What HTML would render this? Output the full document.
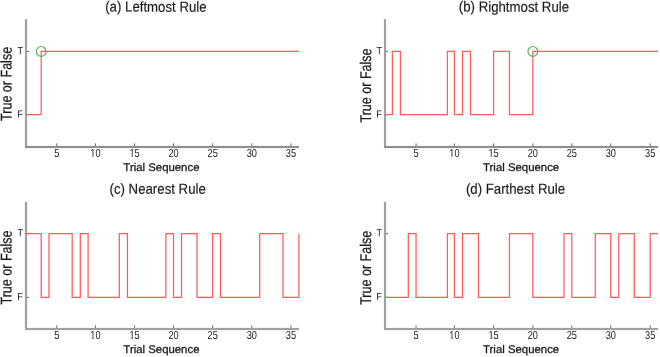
<!DOCTYPE html>
<html><head><meta charset="utf-8"><style>
html,body{margin:0;padding:0;background:#fff;}
body{width:660px;height:357px;overflow:hidden;}
svg{display:block;will-change:transform;}
text{font-family:"Liberation Sans",sans-serif;fill:#1a1a1a;stroke:#1a1a1a;}
.tk{font-size:9.4px;stroke-width:0px;}
.ti{font-size:13px;stroke-width:0.15px;}
.xl{font-size:11.4px;stroke-width:0.3px;}
.yl{font-size:13px;stroke-width:0.2px;}
</style></head><body>
<svg width="660" height="357" viewBox="0 0 660 357">
<rect width="660" height="357" fill="#fff"/>
<g><path d="M26.00 19.20V146.00M25.00 147.00H299.00" fill="none" stroke="#efefef" stroke-width="3.0"/><path d="M26.00 19.20V146.00" fill="none" stroke="#a0a0a0" stroke-width="2.0"/><path d="M25.00 147.00H299.00" fill="none" stroke="#8e8e8e" stroke-width="2.0"/><path d="M56.80 146.00v-2.6 M95.40 146.00v-2.6 M134.60 146.00v-2.6 M173.50 146.00v-2.6 M212.65 146.00v-2.6 M251.80 146.00v-2.6 M290.90 146.00v-2.6 M27.00 51.39h2 M27.00 114.69h2" fill="none" stroke="#666" stroke-width="1.0"/><path d="M25.60 114.69H41.20V51.39H298.90" fill="none" stroke="#ff5c5c" stroke-width="1.25"/><circle cx="41.20" cy="51.44" r="4.9" fill="none" stroke="#56b456" stroke-width="1.15"/><text transform="translate(56.80 157.00) skewY(0.05) scale(0.98 1.24)" class="tk" text-anchor="middle">5</text><g clip-path="url(#c0_10)"><text transform="translate(95.40 157.00) skewY(0.05) scale(0.98 1.24)" class="tk" text-anchor="middle">10</text></g><g clip-path="url(#c0_15)"><text transform="translate(134.60 157.00) skewY(0.05) scale(0.98 1.24)" class="tk" text-anchor="middle">15</text></g><text transform="translate(173.50 157.00) skewY(0.05) scale(0.98 1.24)" class="tk" text-anchor="middle">20</text><text transform="translate(212.65 157.00) skewY(0.05) scale(0.98 1.24)" class="tk" text-anchor="middle">25</text><text transform="translate(251.80 157.00) skewY(0.05) scale(0.98 1.24)" class="tk" text-anchor="middle">30</text><text transform="translate(290.90 157.00) skewY(0.05) scale(0.98 1.24)" class="tk" text-anchor="middle">35</text><text transform="translate(23.15 54.09) skewY(0.05) scale(0.98 1.08)" class="tk" text-anchor="end">T</text><text transform="translate(22.90 117.39) skewY(0.05) scale(0.98 1.08)" class="tk" text-anchor="end">F</text><text transform="translate(105.20 11.60) skewY(0.05) scale(1.018 1.12)" class="ti">(a) Leftmost Rule</text><text transform="translate(161.40 170.95) skewY(0.05) scale(1.0 0.98)" class="xl" text-anchor="middle">Trial Sequence</text><text transform="translate(11.60 83.90) rotate(-90) skewY(0.05) scale(0.965 1.19)" class="yl" text-anchor="middle">True or False</text></g>
<g><path d="M385.00 19.20V146.00M384.00 147.00H658.00" fill="none" stroke="#efefef" stroke-width="3.0"/><path d="M385.00 19.20V146.00" fill="none" stroke="#a0a0a0" stroke-width="2.0"/><path d="M384.00 147.00H658.00" fill="none" stroke="#8e8e8e" stroke-width="2.0"/><path d="M416.05 146.00v-2.6 M454.40 146.00v-2.6 M493.60 146.00v-2.6 M532.85 146.00v-2.6 M571.80 146.00v-2.6 M610.75 146.00v-2.6 M650.20 146.00v-2.6 M386.00 51.39h2 M386.00 114.69h2" fill="none" stroke="#666" stroke-width="1.0"/><path d="M384.85 114.69H392.40V51.39H400.40V114.69H447.40V51.39H454.40V114.69H462.50V51.39H470.45V114.69H493.60V51.39H509.45V114.69H532.85V51.39H658.00" fill="none" stroke="#ff5c5c" stroke-width="1.25"/><circle cx="532.85" cy="51.44" r="4.9" fill="none" stroke="#56b456" stroke-width="1.15"/><text transform="translate(416.05 157.00) skewY(0.05) scale(0.98 1.24)" class="tk" text-anchor="middle">5</text><g clip-path="url(#c1_10)"><text transform="translate(454.40 157.00) skewY(0.05) scale(0.98 1.24)" class="tk" text-anchor="middle">10</text></g><g clip-path="url(#c1_15)"><text transform="translate(493.60 157.00) skewY(0.05) scale(0.98 1.24)" class="tk" text-anchor="middle">15</text></g><text transform="translate(532.85 157.00) skewY(0.05) scale(0.98 1.24)" class="tk" text-anchor="middle">20</text><text transform="translate(571.80 157.00) skewY(0.05) scale(0.98 1.24)" class="tk" text-anchor="middle">25</text><text transform="translate(610.75 157.00) skewY(0.05) scale(0.98 1.24)" class="tk" text-anchor="middle">30</text><text transform="translate(650.20 157.00) skewY(0.05) scale(0.98 1.24)" class="tk" text-anchor="middle">35</text><text transform="translate(382.15 54.09) skewY(0.05) scale(0.98 1.08)" class="tk" text-anchor="end">T</text><text transform="translate(381.90 117.39) skewY(0.05) scale(0.98 1.08)" class="tk" text-anchor="end">F</text><text transform="translate(458.80 11.60) skewY(0.05) scale(1.018 1.12)" class="ti">(b) Rightmost Rule</text><text transform="translate(521.10 170.95) skewY(0.05) scale(1.0 0.98)" class="xl" text-anchor="middle">Trial Sequence</text><text transform="translate(371.10 85.50) rotate(-90) skewY(0.05) scale(0.965 1.19)" class="yl" text-anchor="middle">True or False</text></g>
<g><path d="M26.00 201.90V327.91M25.00 328.91H299.00" fill="none" stroke="#efefef" stroke-width="3.0"/><path d="M26.00 201.90V327.91" fill="none" stroke="#a0a0a0" stroke-width="2.0"/><path d="M25.00 328.91H299.00" fill="none" stroke="#a0a0a0" stroke-width="2.0"/><path d="M56.80 327.91v-2.6 M95.40 327.91v-2.6 M134.60 327.91v-2.6 M173.50 327.91v-2.6 M212.65 327.91v-2.6 M251.80 327.91v-2.6 M290.90 327.91v-2.6 M27.00 233.65h2 M27.00 297.35h2" fill="none" stroke="#666" stroke-width="1.0"/><path d="M25.60 233.65H41.20V297.35H49.00V233.65H72.20V297.35H80.30V233.65H88.10V297.35H119.30V233.65H127.45V297.35H165.90V233.65H173.50V297.35H181.50V233.65H197.00V297.35H212.65V233.65H220.50V297.35H259.70V233.65H283.00V297.35H298.90V233.65H298.90" fill="none" stroke="#ff5c5c" stroke-width="1.25"/><text transform="translate(56.80 339.10) skewY(0.05) scale(0.98 1.24)" class="tk" text-anchor="middle">5</text><g clip-path="url(#c2_10)"><text transform="translate(95.40 339.10) skewY(0.05) scale(0.98 1.24)" class="tk" text-anchor="middle">10</text></g><g clip-path="url(#c2_15)"><text transform="translate(134.60 339.10) skewY(0.05) scale(0.98 1.24)" class="tk" text-anchor="middle">15</text></g><text transform="translate(173.50 339.10) skewY(0.05) scale(0.98 1.24)" class="tk" text-anchor="middle">20</text><text transform="translate(212.65 339.10) skewY(0.05) scale(0.98 1.24)" class="tk" text-anchor="middle">25</text><text transform="translate(251.80 339.10) skewY(0.05) scale(0.98 1.24)" class="tk" text-anchor="middle">30</text><text transform="translate(290.90 339.10) skewY(0.05) scale(0.98 1.24)" class="tk" text-anchor="middle">35</text><text transform="translate(23.15 236.35) skewY(0.05) scale(0.98 1.08)" class="tk" text-anchor="end">T</text><text transform="translate(22.90 300.05) skewY(0.05) scale(0.98 1.08)" class="tk" text-anchor="end">F</text><text transform="translate(109.50 193.70) skewY(0.05) scale(1.018 1.12)" class="ti">(c) Nearest Rule</text><text transform="translate(161.40 352.95) skewY(0.05) scale(1.0 0.98)" class="xl" text-anchor="middle">Trial Sequence</text><text transform="translate(11.60 267.51) rotate(-90) skewY(0.05) scale(0.965 1.19)" class="yl" text-anchor="middle">True or False</text></g>
<g><path d="M385.00 201.90V327.91M384.00 328.91H658.00" fill="none" stroke="#efefef" stroke-width="3.0"/><path d="M385.00 201.90V327.91" fill="none" stroke="#a0a0a0" stroke-width="2.0"/><path d="M384.00 328.91H658.00" fill="none" stroke="#a0a0a0" stroke-width="2.0"/><path d="M416.05 327.91v-2.6 M454.40 327.91v-2.6 M493.60 327.91v-2.6 M532.85 327.91v-2.6 M571.80 327.91v-2.6 M610.75 327.91v-2.6 M650.20 327.91v-2.6 M386.00 233.65h2 M386.00 297.35h2" fill="none" stroke="#666" stroke-width="1.0"/><path d="M384.85 297.35H408.30V233.65H416.05V297.35H447.40V233.65H454.40V297.35H462.50V233.65H478.45V297.35H509.45V233.65H532.85V297.35H564.00V233.65H571.80V297.35H595.30V233.65H610.75V297.35H618.80V233.65H634.30V297.35H650.20V233.65H658.00" fill="none" stroke="#ff5c5c" stroke-width="1.25"/><text transform="translate(416.05 339.10) skewY(0.05) scale(0.98 1.24)" class="tk" text-anchor="middle">5</text><g clip-path="url(#c3_10)"><text transform="translate(454.40 339.10) skewY(0.05) scale(0.98 1.24)" class="tk" text-anchor="middle">10</text></g><g clip-path="url(#c3_15)"><text transform="translate(493.60 339.10) skewY(0.05) scale(0.98 1.24)" class="tk" text-anchor="middle">15</text></g><text transform="translate(532.85 339.10) skewY(0.05) scale(0.98 1.24)" class="tk" text-anchor="middle">20</text><text transform="translate(571.80 339.10) skewY(0.05) scale(0.98 1.24)" class="tk" text-anchor="middle">25</text><text transform="translate(610.75 339.10) skewY(0.05) scale(0.98 1.24)" class="tk" text-anchor="middle">30</text><text transform="translate(650.20 339.10) skewY(0.05) scale(0.98 1.24)" class="tk" text-anchor="middle">35</text><text transform="translate(382.15 236.35) skewY(0.05) scale(0.98 1.08)" class="tk" text-anchor="end">T</text><text transform="translate(381.90 300.05) skewY(0.05) scale(0.98 1.08)" class="tk" text-anchor="end">F</text><text transform="translate(465.90 193.70) skewY(0.05) scale(1.018 1.12)" class="ti">(d) Farthest Rule</text><text transform="translate(521.10 352.95) skewY(0.05) scale(1.0 0.98)" class="xl" text-anchor="middle">Trial Sequence</text><text transform="translate(371.10 267.81) rotate(-90) skewY(0.05) scale(0.965 1.19)" class="yl" text-anchor="middle">True or False</text></g>
<defs><clipPath id="c0_10"><rect x="87.28" y="137.00" width="16.25" height="19.09"/><rect x="92.59" y="155.59" width="0.81" height="3.91"/><rect x="95.40" y="155.59" width="10.25" height="3.91"/></clipPath><clipPath id="c0_15"><rect x="126.48" y="137.00" width="16.25" height="19.09"/><rect x="131.79" y="155.59" width="0.81" height="3.91"/><rect x="134.60" y="155.59" width="10.25" height="3.91"/></clipPath><clipPath id="c1_10"><rect x="446.28" y="137.00" width="16.25" height="19.09"/><rect x="451.59" y="155.59" width="0.81" height="3.91"/><rect x="454.40" y="155.59" width="10.25" height="3.91"/></clipPath><clipPath id="c1_15"><rect x="485.48" y="137.00" width="16.25" height="19.09"/><rect x="490.79" y="155.59" width="0.81" height="3.91"/><rect x="493.60" y="155.59" width="10.25" height="3.91"/></clipPath><clipPath id="c2_10"><rect x="87.28" y="319.10" width="16.25" height="19.09"/><rect x="92.59" y="337.69" width="0.81" height="3.91"/><rect x="95.40" y="337.69" width="10.25" height="3.91"/></clipPath><clipPath id="c2_15"><rect x="126.48" y="319.10" width="16.25" height="19.09"/><rect x="131.79" y="337.69" width="0.81" height="3.91"/><rect x="134.60" y="337.69" width="10.25" height="3.91"/></clipPath><clipPath id="c3_10"><rect x="446.28" y="319.10" width="16.25" height="19.09"/><rect x="451.59" y="337.69" width="0.81" height="3.91"/><rect x="454.40" y="337.69" width="10.25" height="3.91"/></clipPath><clipPath id="c3_15"><rect x="485.48" y="319.10" width="16.25" height="19.09"/><rect x="490.79" y="337.69" width="0.81" height="3.91"/><rect x="493.60" y="337.69" width="10.25" height="3.91"/></clipPath></defs>
</svg>
</body></html>
